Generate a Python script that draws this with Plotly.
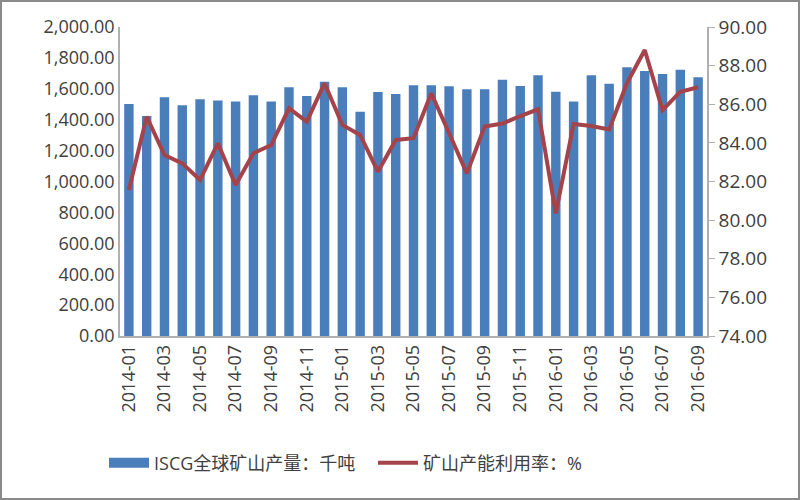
import plotly.graph_objects as go

months = [
    "2014-01","2014-02","2014-03","2014-04","2014-05","2014-06","2014-07","2014-08","2014-09","2014-10","2014-11","2014-12",
    "2015-01","2015-02","2015-03","2015-04","2015-05","2015-06","2015-07","2015-08","2015-09","2015-10","2015-11","2015-12",
    "2016-01","2016-02","2016-03","2016-04","2016-05","2016-06","2016-07","2016-08","2016-09",
]
production = [
    1502, 1424, 1545, 1493, 1532, 1525, 1517, 1558, 1517, 1610, 1553, 1645,
    1610, 1452, 1579, 1566, 1623, 1623, 1616, 1597, 1597, 1659, 1618, 1687,
    1581, 1517, 1687, 1633, 1739, 1715, 1696, 1724, 1674,
]
utilization = [
    81.56, 85.36, 83.37, 82.94, 82.08, 83.98, 81.82, 83.46, 83.89, 85.79, 85.10, 87.09,
    84.93, 84.41, 82.51, 84.15, 84.24, 86.57, 84.50, 82.42, 84.84, 85.00, 85.39, 85.74,
    80.35, 84.98, 84.87, 84.70, 87.09, 88.81, 85.70, 86.65, 86.88,
]
tick_labels = months[::2]
left_ticks = [0, 200, 400, 600, 800, 1000, 1200, 1400, 1600, 1800, 2000]
right_ticks = [74, 76, 78, 80, 82, 84, 86, 88, 90]

FONT = "Open Sans, Noto Sans CJK SC, sans-serif"
BAR_COLOR = "#4a7ebb"
LINE_COLOR = "#a5434a"

fig = go.Figure()
fig.add_trace(go.Bar(
    x=months, y=production, name="ISCG全球矿山产量：千吨",
    marker=dict(color=BAR_COLOR, line=dict(width=0)), showlegend=False,
))
# legend entry for the bars drawn as a wide block (as in the reference)
fig.add_trace(go.Scatter(
    x=[None], y=[None], name="ISCG全球矿山产量：千吨", mode="lines",
    line=dict(color=BAR_COLOR, width=10),
))
fig.add_trace(go.Scatter(
    x=months, y=utilization, name="矿山产能利用率：%", yaxis="y2",
    mode="lines", line=dict(color=LINE_COLOR, width=4),
))

fig.update_layout(
    width=800, height=500,
    margin=dict(l=120, r=93, t=27, b=164),
    paper_bgcolor="white", plot_bgcolor="white",
    font=dict(family=FONT, size=18, color="#404040"),
    bargap=0.47,
    showlegend=True,
    legend=dict(orientation="h", xref="container", yref="container",
                x=0.13, xanchor="left", y=0.074, yanchor="middle",
                font=dict(size=18, color="#404040"), traceorder="normal",
                itemwidth=40, entrywidth=214, entrywidthmode="pixels"),
    xaxis=dict(
        type="category", tickmode="array", tickvals=tick_labels, ticktext=tick_labels,
        tickangle=-90, showline=True, linecolor="#b0b0b0", linewidth=1.5,
        showgrid=False, ticks="", tickfont=dict(size=18),
    ),
    yaxis=dict(
        range=[0, 2000], tickmode="array", tickvals=left_ticks,
        ticktext=[f"{v:,.2f}" for v in left_ticks],
        showline=True, linecolor="#b0b0b0", linewidth=1.5, showgrid=False,
        zeroline=False, ticks="", tickfont=dict(size=18),
    ),
    yaxis2=dict(
        range=[74, 90], overlaying="y", side="right", tickmode="array",
        tickvals=right_ticks, ticktext=[f"{v:.2f}" for v in right_ticks],
        showline=True, linecolor="#b0b0b0", linewidth=1.5, showgrid=False,
        zeroline=False, ticks="outside", ticklen=6, tickcolor="#b0b0b0",
        tickfont=dict(size=19),
    ),
    shapes=[dict(type="rect", xref="paper", yref="paper",
                 x0=-120 / 587, x1=1 + 93 / 587, y0=-164 / 309, y1=1 + 27 / 309,
                 line=dict(color="#8a8a8a", width=4))],
)

fig.write_html("out.html", config={"displayModeBar": False},
               post_script="document.body.style.margin='0';")
